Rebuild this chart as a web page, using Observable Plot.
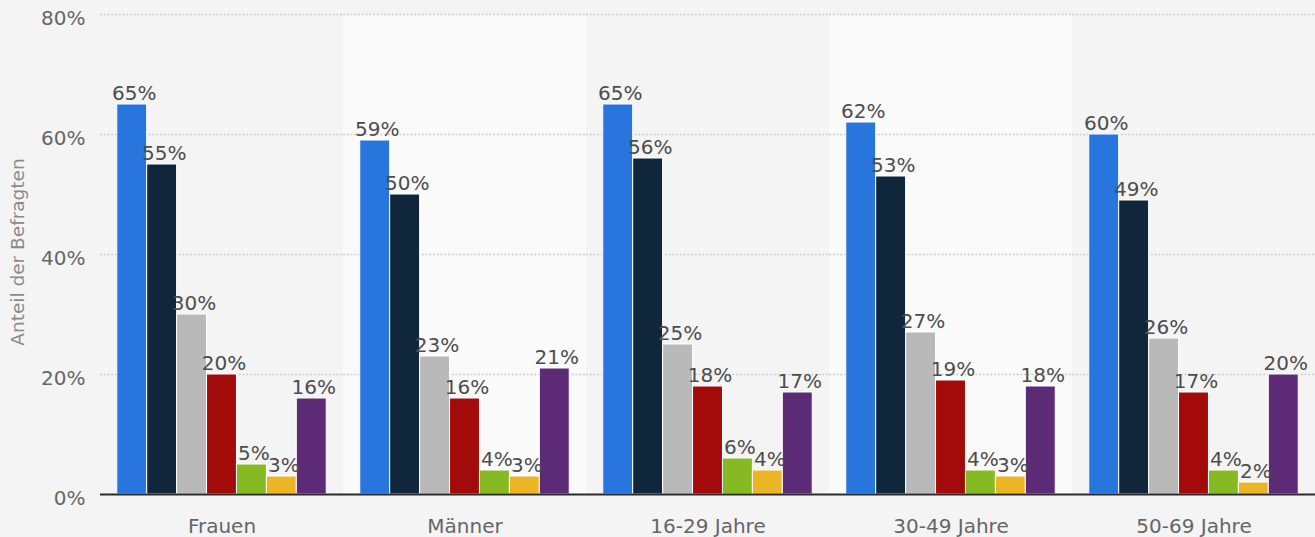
<!DOCTYPE html>
<html><head><meta charset="utf-8">
<script src="https://cdn.jsdelivr.net/npm/d3@7"></script>
<script src="https://cdn.jsdelivr.net/npm/@observablehq/plot@0.6"></script>
<style>
html,body{margin:0;padding:0;background:#f4f4f4;}
#chart{position:relative;width:1315px;height:537px;}
</style></head><body><div id="chart"></div>
<script>
const groups = ["Frauen", "Männer", "16-29 Jahre", "30-49 Jahre", "50-69 Jahre"];
const series = ["Serie 1", "Serie 2", "Serie 3", "Serie 4", "Serie 5", "Serie 6", "Serie 7"];
const colors = ["#2876dd", "#10263b", "#b9b9b9", "#a30b0b", "#86ba23", "#ecb526", "#5d2a76"];
const serie1 = [65, 59, 65, 62, 60];
const serie2 = [55, 50, 56, 53, 49];
const serie3 = [30, 23, 25, 27, 26];
const serie4 = [20, 16, 18, 19, 17];
const serie5 = [5, 4, 6, 4, 4];
const serie6 = [3, 3, 4, 3, 2];
const serie7 = [16, 21, 17, 18, 20];
const yTicks = [0, 20, 40, 60, 80];
const yTitle = "Anteil der Befragten";

const seriesValues = [serie1, serie2, serie3, serie4, serie5, serie6, serie7];
const data = [];
groups.forEach((g, gi) => {
  series.forEach((s, si) => data.push({group: g, series: s, value: seriesValues[si][gi]}));
});
const bands = groups.map((g, i) => ({group: g, light: i % 2 === 1}));

const svg = Plot.plot({
  width: 1315, height: 537,
  marginLeft: 100, marginRight: 0, marginTop: 14, marginBottom: 43,
  style: {background: "#f4f4f4", fontFamily: "DejaVu Sans", fontSize: "20px", color: "#666"},
  fx: {domain: groups, padding: 0, round: false, label: null, tickSize: 0, tickPadding: 24, axis: "bottom"},
  x: {domain: series, paddingInner: 0, paddingOuter: 0.56, round: false, axis: null},
  y: {domain: [0, 80], ticks: yTicks, tickFormat: d => d + "%", label: null, tickSize: 0, tickPadding: 15},
  color: {domain: series, range: colors},
  marks: [
    Plot.barY(bands.filter(d => d.light), {fx: "group", y1: 0, y2: 80, fill: "#fafafa"}),
    Plot.ruleY(yTicks.filter(t => t > 0), {stroke: "#cccccc", strokeWidth: 1.3, strokeDasharray: "2,1.75"}),
    Plot.barY(data, {fx: "group", x: "series", y: "value", fill: "series", stroke: "#fff", strokeWidth: 1}),
    Plot.text(data, {fx: "group", x: "series", y: "value", text: d => d.value + "%", lineAnchor: "bottom", dy: -5, dx: 2, fill: "#4d4d4d", fontSize: 20}),
    Plot.ruleY([0], {stroke: "#2a2a2a", strokeWidth: 2})
  ]
});
d3.select(svg).selectAll('g[aria-label="y-axis tick label"] text, g[aria-label="y-axis"] .tick text')
  .attr("dy", "0.2em");
d3.select(svg).append("text")
  .attr("transform", "translate(24,252) rotate(-90)")
  .attr("text-anchor", "middle")
  .attr("fill", "#8a8a8a")
  .attr("font-size", 18.5)
  .attr("font-family", "DejaVu Sans")
  .text(yTitle);
document.getElementById("chart").appendChild(svg);
</script></body></html>
